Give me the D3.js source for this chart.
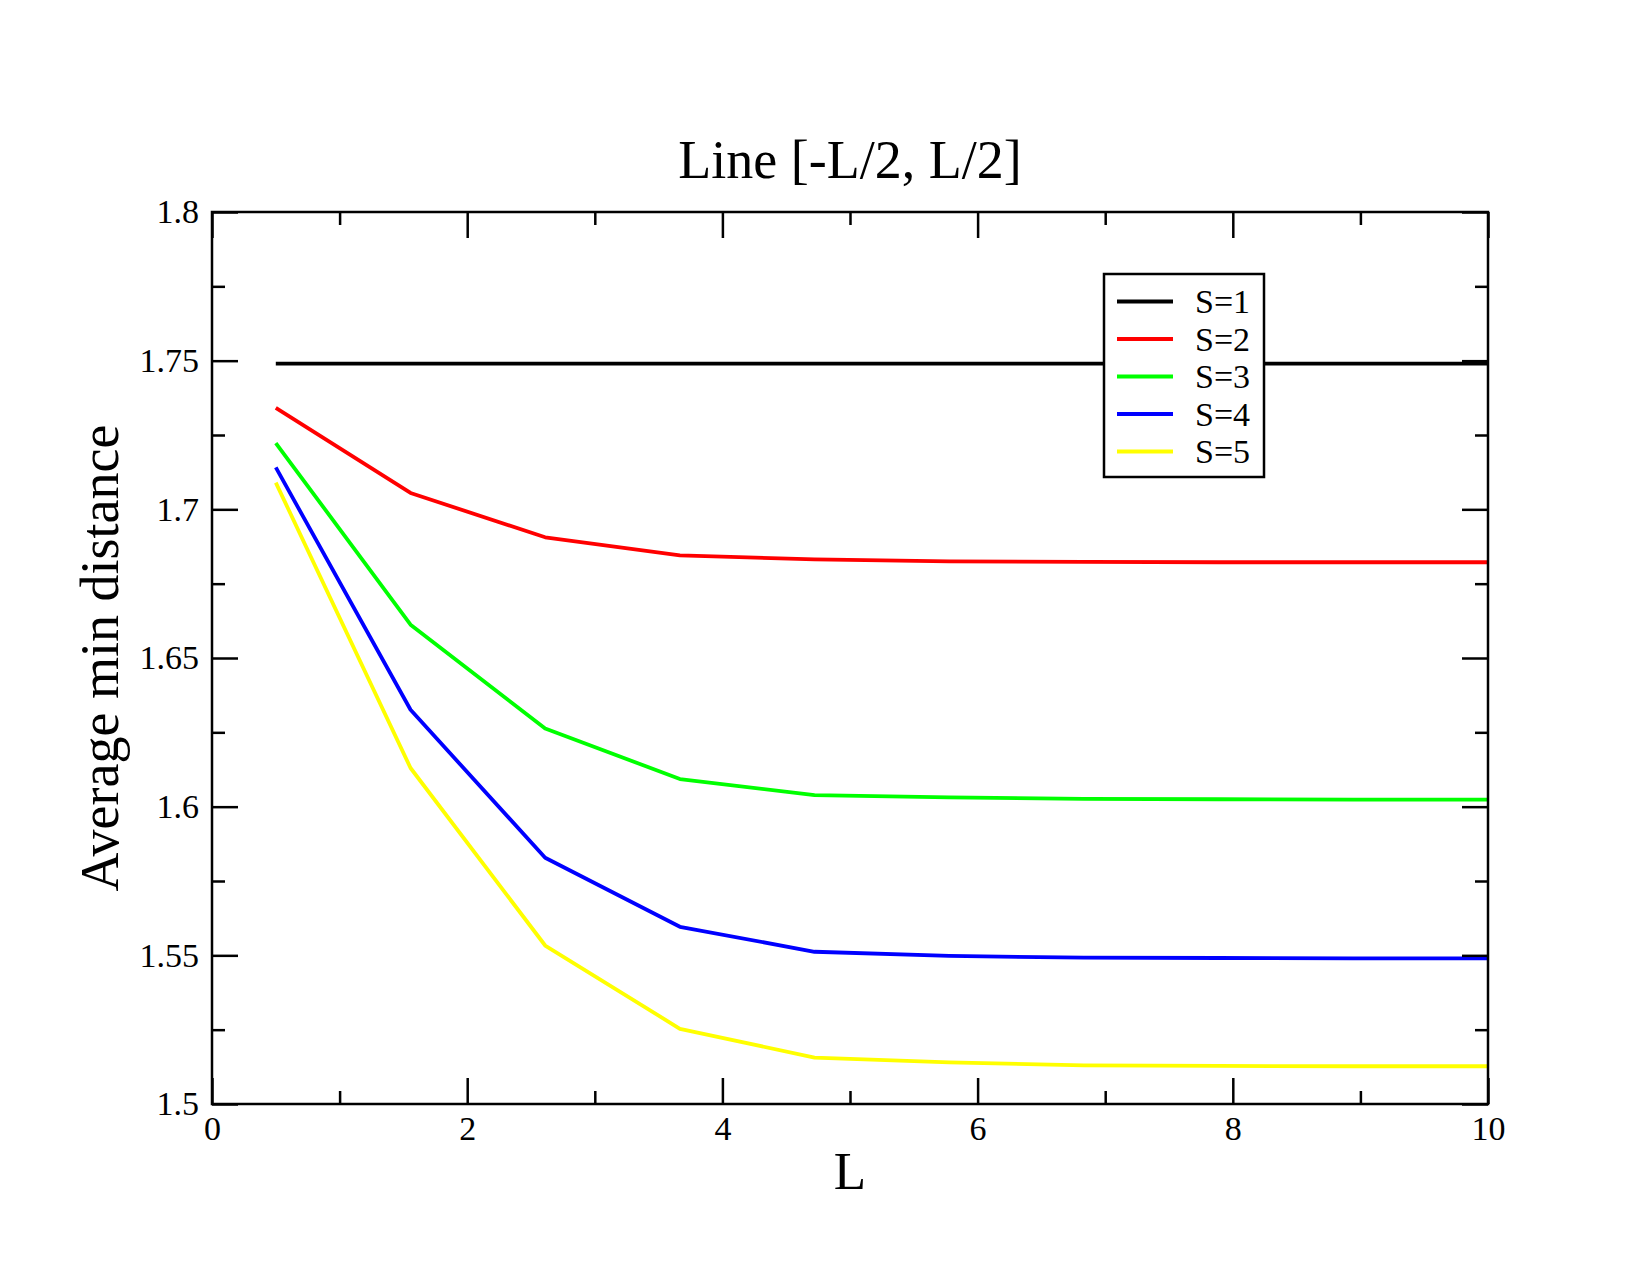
<html lang="en">
<head>
    <meta charset="utf-8">
    <title>Line [-L/2, L/2]</title>
    <script src="https://cdn.jsdelivr.net/npm/d3@7"></script>
    <style>
        body { margin: 0; background: #fff; }
        .line { fill: none; stroke-width: 3.8px; stroke-linejoin: round; }
        .axis text { font-family: "Liberation Serif", "Times New Roman", serif; font-size: 34px; fill: #000; }
        .axis line { stroke: #000; stroke-width: 2.5px; }
        .axis .domain { display: none; }
        .lbl { font-family: "Liberation Serif", "Times New Roman", serif; fill: #000; }
    </style>
</head>
<body>
    <svg width="1650" height="1275"></svg>
    <script>
        // data
        var L = [0.5, 1.556, 2.611, 3.667, 4.722, 5.778, 6.833, 7.889, 8.944, 10];
        var s1 = [1.749, 1.749, 1.749, 1.749, 1.749, 1.749, 1.749, 1.749, 1.749, 1.749];
        var s2 = [1.7341, 1.7055, 1.6906, 1.6845, 1.6832, 1.6825, 1.6823, 1.6822, 1.6822, 1.6822];
        var s3 = [1.7223, 1.6612, 1.6263, 1.6093, 1.6039, 1.6031, 1.6026, 1.6025, 1.6024, 1.6024];
        var s4 = [1.7141, 1.6326, 1.5828, 1.5596, 1.5512, 1.5498, 1.5492, 1.5491, 1.5490, 1.5490];
        var s5 = [1.7090, 1.6130, 1.5533, 1.5253, 1.5156, 1.5140, 1.5130, 1.5128, 1.5127, 1.5127];
        var names = ["S=1", "S=2", "S=3", "S=4", "S=5"];
        var colors = ["#000000", "#ff0000", "#00ff00", "#0000ff", "#ffff00"];

        var xMajor = [0, 2, 4, 6, 8, 10];
        var xMinor = [1, 3, 5, 7, 9];
        var yMajor = [1.5, 1.55, 1.6, 1.65, 1.7, 1.75, 1.8];
        var yLabels = ["1.5", "1.55", "1.6", "1.65", "1.7", "1.75", "1.8"];
        var yMinor = [1.525, 1.575, 1.625, 1.675, 1.725, 1.775];

        var svg = d3.select("svg"),
            margin = {top: 212, right: 162, bottom: 171, left: 212},
            width = svg.attr("width") - margin.left - margin.right,
            height = svg.attr("height") - margin.top - margin.bottom,
            g = svg.append("g").attr("transform", "translate(" + margin.left + "," + margin.top + ")");

        var x = d3.scaleLinear().domain([0, 10]).range([0, width]),
            y = d3.scaleLinear().domain([1.5, 1.8]).range([height, 0]);

        var line = d3.line()
            .x(function(d) { return x(d.x); })
            .y(function(d) { return y(d.y); });

        var series = [s1, s2, s3, s4, s5].map(function(vals, i) {
            return {id: names[i], color: colors[i], values: vals.map(function(v, j) { return {x: L[j], y: v}; })};
        });

        // lines
        g.selectAll(".series")
            .data(series)
            .enter().append("path")
            .attr("class", "line series")
            .attr("d", function(d) { return line(d.values); })
            .style("stroke", function(d) { return d.color; });

        // axes, ticks pointing inward on all four sides
        g.append("g").attr("class", "axis")
            .attr("transform", "translate(0," + height + ")")
            .call(d3.axisBottom(x).tickValues(xMajor).tickSize(-26).tickPadding(12).tickFormat(d3.format("d")));
        g.append("g").attr("class", "axis")
            .attr("transform", "translate(0," + height + ")")
            .call(d3.axisBottom(x).tickValues(xMinor).tickSize(-13).tickFormat(""));
        g.append("g").attr("class", "axis")
            .call(d3.axisTop(x).tickValues(xMajor).tickSize(-26).tickFormat(""));
        g.append("g").attr("class", "axis")
            .call(d3.axisTop(x).tickValues(xMinor).tickSize(-13).tickFormat(""));

        g.append("g").attr("class", "axis")
            .call(d3.axisLeft(y).tickValues(yMajor).tickSize(-26).tickPadding(13)
                .tickFormat(function(d, i) { return yLabels[i]; }));
        g.append("g").attr("class", "axis")
            .call(d3.axisLeft(y).tickValues(yMinor).tickSize(-13).tickFormat(""));
        g.append("g").attr("class", "axis")
            .attr("transform", "translate(" + width + ",0)")
            .call(d3.axisRight(y).tickValues(yMajor).tickSize(-26).tickFormat(""));
        g.append("g").attr("class", "axis")
            .attr("transform", "translate(" + width + ",0)")
            .call(d3.axisRight(y).tickValues(yMinor).tickSize(-13).tickFormat(""));

        // frame
        g.append("rect")
            .attr("width", width)
            .attr("height", height)
            .attr("fill", "none")
            .attr("stroke", "#000")
            .attr("stroke-width", 2.5);

        // legend
        var legend = g.append("g").attr("transform", "translate(" + (1104 - margin.left) + "," + (274 - margin.top) + ")");
        legend.append("rect")
            .attr("width", 160)
            .attr("height", 203)
            .attr("fill", "#fff")
            .attr("stroke", "#000")
            .attr("stroke-width", 2.5);
        var item = legend.selectAll(".item")
            .data(series)
            .enter().append("g")
            .attr("transform", function(d, i) { return "translate(0," + (27.5 + i * 37.5) + ")"; });
        item.append("line")
            .attr("x1", 13).attr("x2", 69)
            .attr("stroke", function(d) { return d.color; })
            .attr("stroke-width", 4);
        item.append("text")
            .attr("class", "lbl")
            .attr("x", 91)
            .attr("dy", "0.34em")
            .style("font-size", "34px")
            .text(function(d) { return d.id; });

        // titles
        svg.append("text")
            .attr("class", "lbl")
            .attr("x", margin.left + width / 2)
            .attr("y", 178)
            .attr("text-anchor", "middle")
            .style("font-size", "54px")
            .text("Line [-L/2, L/2]");

        svg.append("text")
            .attr("class", "lbl")
            .attr("x", margin.left + width / 2)
            .attr("y", 1189)
            .attr("text-anchor", "middle")
            .style("font-size", "53px")
            .text("L");

        svg.append("text")
            .attr("class", "lbl")
            .attr("transform", "translate(118," + (margin.top + height / 2) + ") rotate(-90)")
            .attr("text-anchor", "middle")
            .style("font-size", "54px")
            .text("Average min distance");
    </script>
</body>
</html>
